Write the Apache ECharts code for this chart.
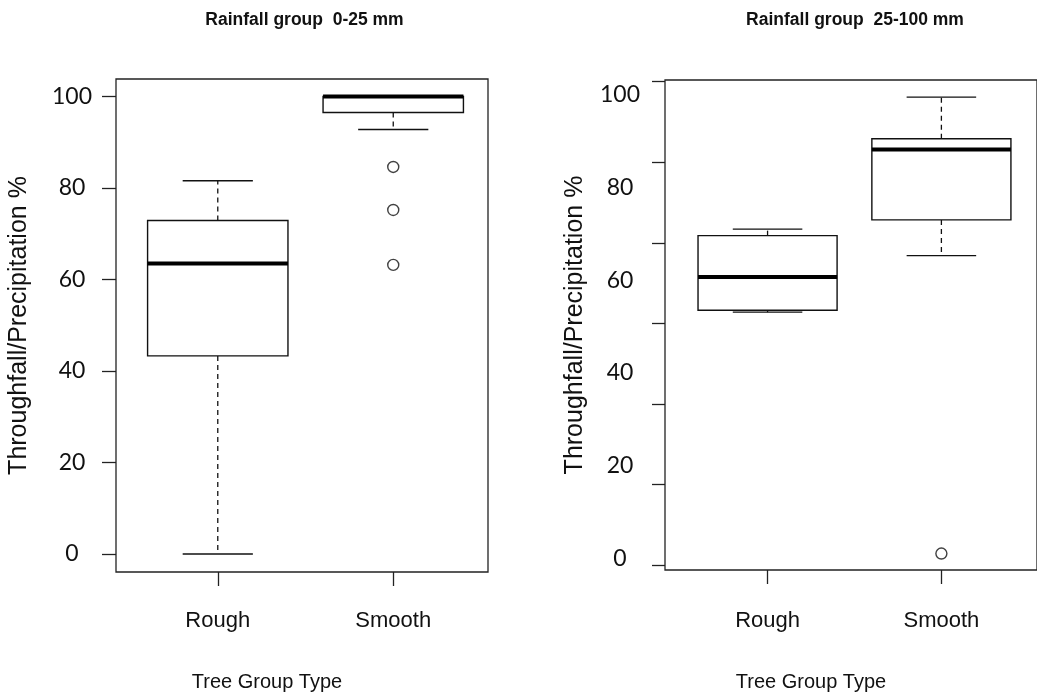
<!DOCTYPE html>
<html><head><meta charset="utf-8">
<script src="https://cdn.jsdelivr.net/npm/echarts@6/dist/echarts.min.js"></script>
<style>html,body{margin:0;padding:0;background:#fff}#c{width:1037px;height:698px}</style>
</head><body><div id="c"></div>
<script>
// ---------- data ----------
const categories = ['Rough', 'Smooth'];
const panelTitles = ['Rainfall group  0-25 mm', 'Rainfall group  25-100 mm'];
const yAxisTitle = 'Throughfall/Precipitation %';
const xAxisTitle = 'Tree Group Type';
const yTickLabels = [0, 20, 40, 60, 80, 100];
const rightTickMarks = [0, 20, 40, 60, 80, 100, 120];

// Panel 1: rainfall 0-25 mm
const p1Min    = [0,    92.8];
const p1Q1     = [43.3, 96.5];
const p1Median = [63.5, 100];
const p1Q3     = [72.9, 100];
const p1Max    = [81.6, 100];
const p1OutlierGroup = [2, 2, 2];
const p1OutlierValue = [84.6, 75.2, 63.2];

// Panel 2: rainfall 25-100 mm
const p2Min    = [53.1, 65.3];
const p2Q1     = [53.5, 73.0];
const p2Median = [60.7, 88.2];
const p2Q3     = [69.6, 90.5];
const p2Max    = [71.0, 99.5];
const p2OutlierGroup = [2];
const p2OutlierValue = [1.0];

// ---------- build ----------
const INK = '#111';
const boxData = (mn, q1, md, q3, mx) => categories.map((c, i) => [i + 1, mn[i], q1[i], md[i], q3[i], mx[i]]);
const outData = (g, v) => g.map((gi, i) => [gi, v[i]]);

function renderBox(params, api) {
  const x = api.value(0);
  const p = [1, 2, 3, 4, 5].map(i => api.coord([x, api.value(i)]));
  const [pMin, pQ1, pMed, pQ3, pMax] = p;
  const cx = pMin[0];
  const bw = api.size([0.8, 0])[0];
  const cw = bw / 2;
  const dashed = { stroke: INK, lineWidth: 1.3, lineDash: [5, 4] };
  const solid = { stroke: INK, lineWidth: 1.4 };
  return {
    type: 'group',
    children: [
      { type: 'line', shape: { x1: cx, y1: pQ3[1], x2: cx, y2: pMax[1] }, style: dashed },
      { type: 'line', shape: { x1: cx, y1: pQ1[1], x2: cx, y2: pMin[1] }, style: dashed },
      { type: 'line', shape: { x1: cx - cw / 2, y1: pMax[1], x2: cx + cw / 2, y2: pMax[1] }, style: solid },
      { type: 'line', shape: { x1: cx - cw / 2, y1: pMin[1], x2: cx + cw / 2, y2: pMin[1] }, style: solid },
      { type: 'rect', shape: { x: cx - bw / 2, y: pQ3[1], width: bw, height: pQ1[1] - pQ3[1] },
        style: { fill: 'rgba(255,255,255,0)', stroke: INK, lineWidth: 1.4 } },
      { type: 'line', shape: { x1: cx - bw / 2, y1: pMed[1], x2: cx + bw / 2, y2: pMed[1] },
        style: { stroke: '#000', lineWidth: 4 } }
    ]
  };
}

const lblFont = 'Liberation Sans, Arial, sans-serif';
const tickFont = 'Lato, Noto Sans, sans-serif';

function xAxisFor(grid, min, max, labelMargin, nameGap, nameShift) {
  return {
    gridIndex: grid, type: 'value', min: min, max: max,
    axisLine: { show: false, onZero: false }, splitLine: { show: false },
    axisTick: { customValues: [1, 2], length: 14, lineStyle: { color: '#222', width: 1.3 } },
    axisLabel: { customValues: [1, 2], formatter: v => categories[Math.round(v) - 1], margin: labelMargin,
      fontFamily: lblFont, fontSize: 22, color: INK },
    name: xAxisTitle, nameLocation: 'middle', nameGap: nameGap,
    nameTextStyle: { fontFamily: lblFont, fontSize: 20, color: INK, padding: [0, nameShift, 0, 0] }
  };
}

const option = {
  animation: false,
  backgroundColor: '#fff',
  title: [
    { text: panelTitles[0], left: 299.5, top: 6, textAlign: 'center',
      textStyle: { fontFamily: lblFont, fontWeight: 'bold', fontSize: 17.5, color: INK } },
    { text: panelTitles[1], left: 850, top: 6, textAlign: 'center',
      textStyle: { fontFamily: lblFont, fontWeight: 'bold', fontSize: 17.5, color: INK } }
  ],
  grid: [
    { left: 116, top: 79, width: 372, height: 493, show: true, borderColor: '#222', borderWidth: 1.3, backgroundColor: 'transparent' },
    { left: 665, top: 80, width: 376, height: 490, show: true, borderColor: '#222', borderWidth: 1.3, backgroundColor: 'transparent' }
  ],
  xAxis: [xAxisFor(0, 0.42, 2.54, 38, 100, 70), xAxisFor(1, 0.41, 2.55, 40, 102, 80)],
  yAxis: [
    { gridIndex: 0, type: 'value', min: -3.93, max: 103.83, position: 'left',
      axisLine: { show: false, onZero: false }, splitLine: { show: false },
      axisTick: { customValues: yTickLabels, length: 14, lineStyle: { color: '#222', width: 1.3 } },
      axisLabel: { customValues: yTickLabels, margin: 44, align: 'center', fontFamily: tickFont, fontSize: 23, color: INK },
      name: yAxisTitle, nameLocation: 'middle', nameGap: 84,
      nameTextStyle: { fontFamily: lblFont, fontSize: 25, color: INK } },
    { gridIndex: 1, type: 'value', min: -2.55, max: 103.19, position: 'left',
      axisLine: { show: false, onZero: false }, splitLine: { show: false },
      axisTick: { show: false },
      axisLabel: { customValues: yTickLabels, margin: 45, align: 'center', fontFamily: tickFont, fontSize: 23, color: INK },
      name: yAxisTitle, nameLocation: 'middle', nameGap: 77,
      nameTextStyle: { fontFamily: lblFont, fontSize: 25, color: INK } },
    { gridIndex: 1, type: 'value', min: -1.24, max: 120.42, position: 'left',
      axisLine: { show: false, onZero: false }, splitLine: { show: false },
      axisTick: { customValues: rightTickMarks, length: 13, lineStyle: { color: '#222', width: 1.3 } },
      axisLabel: { show: false } }
  ],
  series: [
    { type: 'custom', xAxisIndex: 0, yAxisIndex: 0, renderItem: renderBox,
      encode: { x: 0, y: [1, 2, 3, 4, 5] }, data: boxData(p1Min, p1Q1, p1Median, p1Q3, p1Max), z: 3 },
    { type: 'scatter', xAxisIndex: 0, yAxisIndex: 0, symbol: 'circle', symbolSize: 11,
      itemStyle: { color: 'rgba(255,255,255,0)', borderColor: INK, borderWidth: 1.4 },
      data: outData(p1OutlierGroup, p1OutlierValue), z: 4 },
    { type: 'custom', xAxisIndex: 1, yAxisIndex: 1, renderItem: renderBox,
      encode: { x: 0, y: [1, 2, 3, 4, 5] }, data: boxData(p2Min, p2Q1, p2Median, p2Q3, p2Max), z: 3 },
    { type: 'scatter', xAxisIndex: 1, yAxisIndex: 1, symbol: 'circle', symbolSize: 11,
      itemStyle: { color: 'rgba(255,255,255,0)', borderColor: INK, borderWidth: 1.4 },
      data: outData(p2OutlierGroup, p2OutlierValue), z: 4 }
  ]
};

const chart = echarts.init(document.getElementById('c'), null, { renderer: 'canvas' });
chart.setOption(option);
</script>
</body></html>
